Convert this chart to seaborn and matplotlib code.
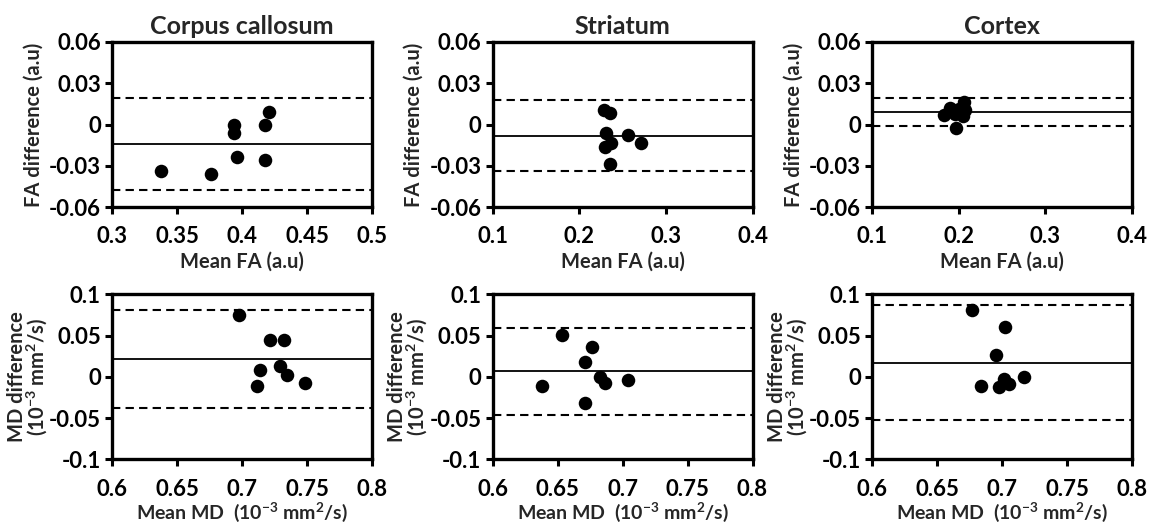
import numpy as np
import pandas as pd
import matplotlib
matplotlib.use("Agg")
import matplotlib.pyplot as plt
from matplotlib.ticker import FuncFormatter
import seaborn as sns

# ---- data ----
regiones = ["Corpus callosum", "Striatum", "Cortex"]

# FA (top row)
fa_cc_mean = [0.338, 0.376, 0.396, 0.394, 0.394, 0.418, 0.421, 0.418]
fa_cc_diff = [-0.0338, -0.0360, -0.0233, -0.0005, -0.0064, -0.0005, 0.0090, -0.0255]
fa_st_mean = [0.229, 0.236, 0.231, 0.256, 0.237, 0.271, 0.230, 0.235]
fa_st_diff = [0.0108, 0.0083, -0.0064, -0.0078, -0.0137, -0.0137, -0.0162, -0.0284]
fa_cx_mean = [0.1835, 0.1904, 0.1954, 0.1965, 0.2050, 0.2065, 0.2077, 0.2000]
fa_cx_diff = [0.0066, 0.0122, 0.0078, -0.0024, 0.0059, 0.0164, 0.0103, 0.0115]

# MD (bottom row)
md_cc_mean = [0.698, 0.7216, 0.7323, 0.7136, 0.7292, 0.7344, 0.7113, 0.7482]
md_cc_diff = [0.0754, 0.0444, 0.0444, 0.0085, 0.0133, 0.0024, -0.0117, -0.0077]
md_st_mean = [0.6377, 0.6538, 0.6764, 0.6713, 0.6826, 0.6867, 0.7046, 0.6713]
md_st_diff = [-0.0113, 0.0505, 0.0356, 0.0182, -0.0008, -0.0081, -0.0040, -0.0323]
md_cx_mean = [0.6769, 0.7021, 0.6954, 0.7172, 0.7013, 0.7056, 0.6974, 0.6836]
md_cx_diff = [0.0804, 0.0606, 0.0267, -0.0004, -0.0032, -0.0085, -0.0121, -0.0109]

# bias and limits of agreement (mean, upper, lower)
fa_lineas = [(-0.0142, 0.0193, -0.0478), (-0.0081, 0.0176, -0.0338), (0.0091, 0.0193, -0.0009)]
md_lineas = [(0.0210, 0.0812, -0.0380), (0.0069, 0.0586, -0.0465), (0.0168, 0.0869, -0.0529)]

fa_xlims = [(0.3, 0.5), (0.1, 0.4), (0.1, 0.4)]
fa_xticks = [[0.3, 0.35, 0.4, 0.45, 0.5], [0.1, 0.2, 0.3, 0.4], [0.1, 0.2, 0.3, 0.4]]
fa_yticks = [-0.06, -0.03, 0, 0.03, 0.06]
md_xticks = [0.6, 0.65, 0.7, 0.75, 0.8]
md_yticks = [-0.1, -0.05, 0, 0.05, 0.1]

sns.set_style("ticks")
plt.rcParams['font.family'] = ['Lato', 'DejaVu Sans']
plt.rcParams['font.weight'] = 'bold'
plt.rcParams['axes.unicode_minus'] = False
plt.rcParams['mathtext.default'] = 'regular'

fig = plt.figure(figsize=(11.5, 5.28), dpi=100)
W, H = 1150, 528

col_x = [112, 492.5, 872]
ancho = 260
alto = 165
fila_top = [42, 294.3]

fmt = FuncFormatter(lambda v, p: f"{v:g}")


def estilo(ax):
    for s in ax.spines.values():
        s.set_linewidth(2.4)
        s.set_color("black")
    ax.tick_params(axis="both", direction="out", length=5, width=2.2, colors="black",
                   labelsize=16)
    ax.tick_params(axis="x", pad=9)
    ax.tick_params(axis="y", pad=3)
    ax.xaxis.set_major_formatter(fmt)
    ax.yaxis.set_major_formatter(fmt)
    for lab in ax.get_xticklabels() + ax.get_yticklabels():
        lab.set_fontweight("bold")


def panel(ax, xs, ys, lineas):
    df = pd.DataFrame({"x": xs, "y": ys})
    sns.scatterplot(data=df, x="x", y="y", ax=ax, color="black", s=95,
                    edgecolor="black", linewidth=0, zorder=3)
    media, sup, inf = lineas
    ax.axhline(media, color="black", lw=1.3, zorder=2)
    ax.axhline(sup, color="black", lw=1.5, ls=(0, (4, 2.5)), zorder=2)
    ax.axhline(inf, color="black", lw=1.5, ls=(0, (4, 2.5)), zorder=2)


fa_data = [(fa_cc_mean, fa_cc_diff), (fa_st_mean, fa_st_diff), (fa_cx_mean, fa_cx_diff)]
md_data = [(md_cc_mean, md_cc_diff), (md_st_mean, md_st_diff), (md_cx_mean, md_cx_diff)]

for i in range(3):
    # FA row
    ax = fig.add_axes([col_x[i] / W, 1 - (fila_top[0] + alto) / H, ancho / W, alto / H])
    panel(ax, fa_data[i][0], fa_data[i][1], fa_lineas[i])
    ax.set_xlim(*fa_xlims[i])
    ax.set_ylim(-0.06, 0.06)
    ax.set_xticks(fa_xticks[i])
    ax.set_yticks(fa_yticks)
    estilo(ax)
    ax.set_title(regiones[i], fontsize=18, fontweight="bold", pad=6)
    ax.set_xlabel("Mean FA (a.u)", fontsize=14.5, fontweight="bold", labelpad=3)
    ax.set_ylabel("FA difference (a.u)", fontsize=14.5, fontweight="bold", labelpad=4)

    # MD row
    ax = fig.add_axes([col_x[i] / W, 1 - (fila_top[1] + alto) / H, ancho / W, alto / H])
    panel(ax, md_data[i][0], md_data[i][1], md_lineas[i])
    ax.set_xlim(0.6, 0.8)
    ax.set_ylim(-0.1, 0.1)
    ax.set_xticks(md_xticks)
    ax.set_yticks(md_yticks)
    estilo(ax)
    ax.set_xlabel("Mean MD  (10$^{-3}$ mm$^{2}$/s)", fontsize=14, fontweight="bold", labelpad=1)
    ax.set_ylabel("MD difference\n(10$^{-3}$ mm$^{2}$/s)", fontsize=14.5, fontweight="bold",
                  labelpad=0, linespacing=0.85)

fig.savefig("out.png", dpi=100, facecolor="white")
